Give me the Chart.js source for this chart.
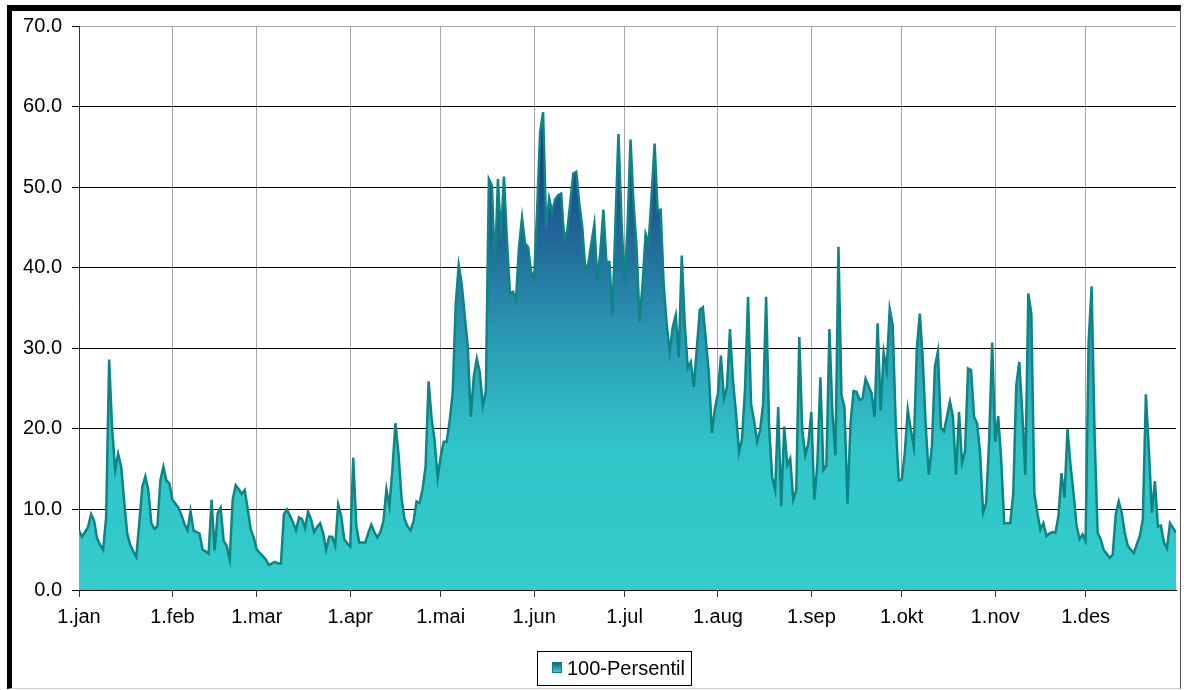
<!DOCTYPE html>
<html>
<head>
<meta charset="utf-8">
<script src="https://cdn.jsdelivr.net/npm/chart.js@4/dist/chart.umd.min.js"></script>
<style>
  body { margin: 0; background: #fff; }
  #wrap { position: relative; width: 1184px; height: 690px; overflow: hidden; }
  #frame {
    position: absolute; left: 7px; top: 5px; width: 1174px; height: 684px;
    box-sizing: border-box; border-left: 5px solid #000; border-top: 6px solid #000;
    border-right: 1px solid #555; border-bottom: 1px solid #ccc; pointer-events: none;
  }
  #legend {
    position: absolute; left: 537px; top: 651px; width: 155px; height: 35px;
    box-sizing: border-box; border: 1px solid #000; background: #fff;
    font: 20px "Liberation Sans", Arial, sans-serif; color: #000;
  }
  #legend .mark {
    position: absolute; left: 14px; top: 10px; width: 10px; height: 11px; box-sizing: border-box;
    border: 1px solid #0e7f80; background: linear-gradient(#1e5f92, #33cccc);
  }
  #legend .txt { position: absolute; left: 29px; top: 5px; white-space: nowrap; }
</style>
</head>
<body>
<div id="wrap">
  <canvas id="chart" width="1184" height="690"></canvas>
  <div id="frame"></div>
  <div id="legend"><span class="mark"></span><span class="txt">100-Persentil</span></div>
</div>
<script>
// daily values, one array per month
const jan = [7.4, 6.6, 7.2, 7.8, 9.4, 8.6, 6.4, 5.6, 5.0, 9.0, 28.6, 20.0, 14.9, 16.9, 15.3, 11.0, 7.0, 5.6, 4.8, 4.1, 8.3, 12.8, 14.1, 12.4, 8.3, 7.6, 7.9, 13.6, 15.3, 13.6, 13.2];
const feb = [11.2, 10.7, 10.2, 9.3, 8.2, 7.4, 9.8, 7.4, 7.2, 7.0, 5.0, 4.8, 4.5, 11.2, 4.9, 9.5, 10.2, 6.1, 5.5, 3.8, 11.2, 13.0, 12.5, 11.9, 12.4, 10.0, 7.5, 6.5];
const mar = [5.0, 4.6, 4.2, 3.8, 3.1, 3.3, 3.5, 3.3, 3.3, 9.4, 10.0, 9.2, 8.4, 7.4, 9.0, 8.8, 7.7, 9.7, 8.8, 7.2, 7.8, 8.3, 7.1, 5.0, 6.6, 6.6, 5.5, 10.6, 9.2, 6.3, 5.8];
const apr = [5.4, 16.4, 8.0, 5.9, 5.9, 5.9, 7.1, 8.1, 7.2, 6.5, 7.2, 8.5, 12.5, 10.4, 15.0, 20.7, 17.0, 11.5, 8.8, 7.9, 7.4, 8.5, 11.0, 10.8, 12.5, 15.3, 25.9, 21.3, 18.5, 13.9];
const mai = [16.5, 18.4, 18.4, 21.0, 24.5, 35.5, 40.3, 38.0, 34.0, 30.2, 21.5, 26.5, 28.7, 27.0, 22.9, 24.6, 51.0, 50.2, 39.7, 51.0, 43.8, 51.3, 43.4, 36.8, 37.0, 36.0, 42.6, 46.2, 43.0, 42.6, 39.5];
const jun = [38.6, 47.0, 56.8, 59.3, 45.0, 48.6, 46.9, 48.5, 49.0, 49.2, 43.6, 44.6, 48.0, 51.7, 51.9, 48.0, 45.0, 39.7, 40.5, 43.0, 45.4, 38.4, 42.0, 47.2, 40.7, 40.7, 34.1, 45.5, 56.6, 46.0];
const jul = [38.0, 45.0, 55.9, 48.0, 42.6, 33.3, 38.0, 44.2, 43.0, 49.0, 55.4, 47.1, 47.2, 38.0, 33.0, 29.5, 32.6, 34.1, 28.9, 41.5, 33.0, 27.5, 28.3, 25.2, 30.0, 34.8, 35.1, 31.0, 26.9, 19.5, 22.5];
const aug = [24.4, 29.1, 23.8, 25.2, 32.4, 26.0, 22.0, 17.1, 18.8, 25.0, 36.4, 23.1, 21.0, 18.4, 19.8, 23.1, 36.4, 20.2, 14.0, 12.4, 22.7, 10.4, 20.3, 15.5, 16.3, 11.2, 12.4, 31.4, 19.8, 16.7, 18.2];
const sep = [22.1, 11.2, 15.7, 26.4, 14.9, 15.5, 32.4, 22.0, 16.7, 42.6, 24.2, 22.7, 10.7, 20.7, 24.7, 24.6, 23.6, 23.8, 26.2, 25.3, 24.4, 21.5, 33.1, 22.3, 29.5, 27.3, 34.9, 32.9, 20.7, 13.6];
const okt = [13.7, 17.0, 22.4, 19.9, 17.8, 30.0, 34.3, 28.5, 20.0, 14.3, 17.8, 27.7, 29.6, 20.1, 19.7, 21.5, 23.4, 21.5, 14.3, 22.1, 15.8, 17.2, 27.5, 27.3, 21.5, 20.7, 17.0, 9.6, 10.8, 18.6, 30.7];
const nov = [18.4, 21.6, 16.2, 8.3, 8.3, 8.3, 12.0, 25.4, 28.3, 22.0, 14.3, 36.8, 34.3, 12.0, 9.6, 7.5, 8.3, 6.7, 7.0, 7.2, 7.1, 9.2, 14.5, 11.5, 20.0, 15.5, 12.0, 8.0, 6.3, 6.9];
const des = [6.1, 30.7, 37.7, 19.1, 7.1, 6.3, 5.0, 4.5, 4.0, 4.4, 9.4, 11.0, 9.6, 7.1, 5.5, 5.0, 4.6, 5.7, 6.7, 8.8, 24.3, 17.4, 9.6, 13.5, 7.9, 8.0, 5.9, 5.2, 8.3, 7.7, 7.1];

const monthLabels = ['1.jan', '1.feb', '1.mar', '1.apr', '1.mai', '1.jun', '1.jul', '1.aug', '1.sep', '1.okt', '1.nov', '1.des'];
const yTicks = [0, 10, 20, 30, 40, 50, 60, 70];

const months = [jan, feb, mar, apr, mai, jun, jul, aug, sep, okt, nov, des];
const monthStarts = [];
let dayCount = 0;
months.forEach(m => { monthStarts.push(dayCount); dayCount += m.length; });
const values = months.flat();
const points = values.map((v, i) => ({ x: i, y: v }));

const FONT = { family: '"Liberation Sans", Arial, sans-serif', size: 20 };

function fillGradient(context) {
  const chart = context.chart;
  const area = chart.chartArea;
  if (!area) return '#33cccc';
  const yScale = chart.scales.y;
  const g = chart.ctx.createLinearGradient(0, yScale.getPixelForValue(0), 0, yScale.getPixelForValue(60));
  g.addColorStop(0, '#33cccc');
  g.addColorStop(0.3, '#31c4c8');
  g.addColorStop(0.5, '#2b9fb7');
  g.addColorStop(0.68, '#24739f');
  g.addColorStop(0.85, '#1c4b8c');
  g.addColorStop(1, '#16307f');
  return g;
}

const ctx = document.getElementById('chart').getContext('2d');
new Chart(ctx, {
  type: 'line',
  data: {
    datasets: [{
      label: '100-Persentil',
      data: points,
      borderColor: '#0e8585',
      borderWidth: 2.5,
      backgroundColor: fillGradient,
      fill: 'origin',
      pointRadius: 0,
      tension: 0
    }]
  },
  options: {
    responsive: false,
    animation: false,
    devicePixelRatio: 1,
    layout: { padding: { left: 12, right: 8, top: 26, bottom: 0 } },
    plugins: { legend: { display: false }, tooltip: { enabled: false } },
    scales: {
      x: {
        type: 'linear',
        min: 0,
        max: dayCount - 1,
        afterBuildTicks: scale => { scale.ticks = monthStarts.map(v => ({ value: v })); },
        afterFit: scale => { scale.height = 100; },
        ticks: {
          autoSkip: false,
          maxRotation: 0,
          padding: 8,
          color: '#000',
          font: FONT,
          callback: (v, i) => monthLabels[i]
        },
        grid: { color: '#a6a6a6', lineWidth: 1, tickLength: 7, tickColor: '#333' },
        border: { color: '#000', width: 1 }
      },
      y: {
        min: 0,
        max: 70,
        afterBuildTicks: scale => { scale.ticks = yTicks.map(v => ({ value: v })); },
        afterFit: scale => { scale.width = 67; },
        ticks: {
          padding: 10,
          color: '#000',
          font: FONT,
          callback: v => v.toFixed(1)
        },
        grid: {
          color: c => (c.tick && c.tick.value === 70 ? '#a6a6a6' : '#000'),
          lineWidth: 1,
          tickLength: 7,
          tickColor: '#000'
        },
        border: { color: '#333', width: 1 }
      }
    }
  }
});
</script>
</body>
</html>
